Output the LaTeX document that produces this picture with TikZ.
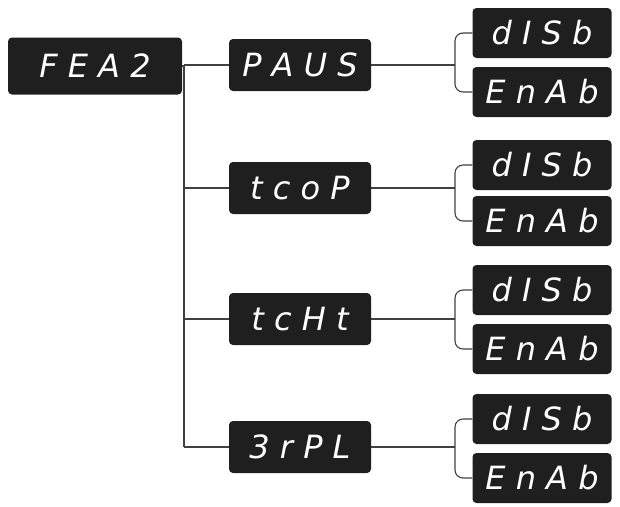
\documentclass[tikz,border=0pt]{standalone}
\usepackage{fontspec}
\setmainfont{DejaVu Sans}
\begin{document}
\begin{tikzpicture}[x=1pt,y=-1pt]
	\tikzset{
		seg/.style={fill=black!88,rounded corners=4pt,text=white,inner sep=0pt,
			minimum height=52pt,font=\fontsize{32}{32}\selectfont\itshape},
		wire/.style={draw=black!75,line width=1.1pt}
	}
	\useasboundingbox (0,0) rectangle (620,506);
	%root
	\node[seg,minimum width=174pt,minimum height=57pt] (fea) at (95,66){F E A 2};
	\coordinate (trunk) at (184,66);
	\draw[wire] (fea.east) -- (trunk);
	%menus
	\foreach \name/\txt/\y/\ya/\yb in {paus/P A U S/65/33/92, tcop/t c o P/188/165/221,
		tcht/t c H t/319/290/349, rpl/3 r P L/447/419/478}{
		\node[seg,minimum width=142pt] (\name) at (300,\y){\txt};
		\node[seg,minimum width=139pt,minimum height=50pt] (\name d) at (542,\ya){d I S b};
		\node[seg,minimum width=139pt,minimum height=50pt] (\name e) at (542,\yb){E n A b};
		\draw[wire] (184,\y) -- (\name.west);
		\draw[wire] (\name.east) -- (455,\y);
		\draw[wire,rounded corners=8pt] (\name d.west) -| (455,\y) |- (\name e.west);
	}
	\draw[wire] (trunk) -- (184,447);
\end{tikzpicture}
\end{document}
